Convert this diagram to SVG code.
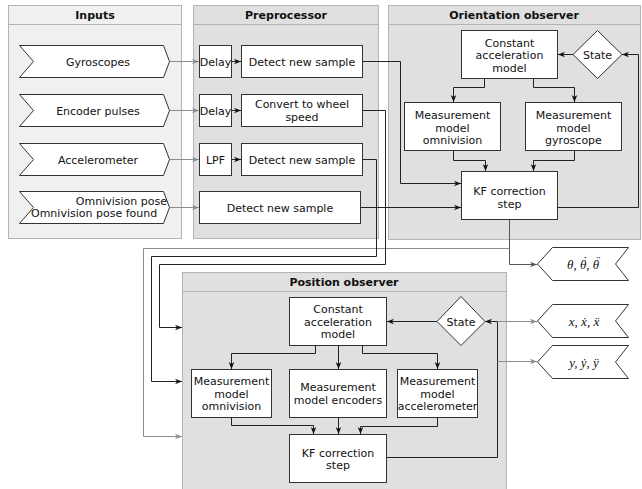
<svg xmlns="http://www.w3.org/2000/svg" width="642" height="489" viewBox="0 0 642 489">
<style>
text{font-family:"DejaVu Sans",Verdana,sans-serif;font-size:11px;fill:#111;text-anchor:middle}
.title{font-weight:bold}
.panel{fill:#e0e0e0;stroke:#b4b4b4;stroke-width:1}
.panel.light{fill:#f0f0f0}
.hdr{stroke:#b4b4b4;stroke-width:1}
.box{fill:#fff;stroke:#333;stroke-width:1}
.io{fill:#fff;stroke:#333;stroke-width:1}
.out{font-family:"Liberation Serif","DejaVu Serif",serif;font-style:italic;font-size:13px}
.c{fill:none;stroke:#222;stroke-width:1;marker-end:url(#ah)}
.g{fill:none;stroke:#8c8c8c;stroke-width:1;marker-end:url(#ag)}
.m{fill:none;stroke:#555;stroke-width:1;marker-end:url(#am)}
</style>
<defs>
<marker id="ah" viewBox="0 0 10 10" refX="10" refY="5" markerWidth="7" markerHeight="7" orient="auto" markerUnits="userSpaceOnUse"><path d="M0,1 L10,5 L0,9 L3,5 Z" fill="#111"/></marker>
<marker id="ag" viewBox="0 0 10 10" refX="10" refY="5" markerWidth="7" markerHeight="7" orient="auto" markerUnits="userSpaceOnUse"><path d="M0,1 L10,5 L0,9 L3,5 Z" fill="#8c8c8c"/></marker>
<marker id="am" viewBox="0 0 10 10" refX="10" refY="5" markerWidth="7" markerHeight="7" orient="auto" markerUnits="userSpaceOnUse"><path d="M0,1 L10,5 L0,9 L3,5 Z" fill="#555"/></marker>
</defs>
<rect width="642" height="489" fill="#fff"/>

<g id="panel-inputs">
<rect class="panel light" x="8.5" y="5.5" width="173" height="233"/>
<line class="hdr" x1="8.5" y1="24.5" x2="181.5" y2="24.5"/>
<text class="title" x="95" y="19">Inputs</text>
</g>
<g id="panel-preprocessor">
<rect class="panel" x="193.5" y="5.5" width="185" height="233"/>
<line class="hdr" x1="193.5" y1="24.5" x2="378.5" y2="24.5"/>
<text class="title" x="286" y="19">Preprocessor</text>
</g>
<g id="panel-orientation">
<rect class="panel" x="388.5" y="5.5" width="252" height="234"/>
<line class="hdr" x1="388.5" y1="24.5" x2="640.5" y2="24.5"/>
<text class="title" x="514" y="19">Orientation observer</text>
</g>
<g id="panel-position">
<rect class="panel" x="182.5" y="272.5" width="324" height="220"/>
<line class="hdr" x1="182.5" y1="291.5" x2="506.5" y2="291.5"/>
<text class="title" x="344" y="286">Position observer</text>
</g>

<g id="connectors">
<path class="g" d="M169,61.5 H199"/>
<path class="g" d="M169,110.5 H199"/>
<path class="g" d="M169,159.5 H199"/>
<path class="g" d="M169,207.5 H199"/>
<path class="c" d="M231,61.5 H241"/>
<path class="c" d="M231,110.5 H241"/>
<path class="c" d="M231,159.5 H241"/>
<path class="c" d="M363,61.5 H400.5 V183.5 H461"/>
<path class="c" d="M361,207.5 H461"/>
<path class="c" d="M484.5,78 V87.5 H453.5 V102"/>
<path class="c" d="M533.5,78 V87.5 H574.5 V102"/>
<path class="c" d="M453.5,151 V160.5 H485.5 V171"/>
<path class="c" d="M574.5,151 V160.5 H533.5 V171"/>
<path class="c" d="M558,207.5 H638.5 V54.5 H622"/>
<path class="c" d="M573,54.5 H558"/>
<path class="m" d="M509.5,219 V264.5 H537"/>
<path class="g" d="M509.5,248.5 H143.5 V436.5 H182"/>
<path class="c" d="M363,110.5 H385.5 V264.5 H159.5 V327.5 H182"/>
<path class="c" d="M363,159.5 H376.5 V256.5 H151.5 V381.5 H182"/>
<path class="c" d="M437,321.5 H387"/>
<path class="c" d="M387,457.5 H497.5 V321.5 H485"/>
<path class="g" d="M497.5,321.5 H537"/>
<path class="g" d="M497.5,361.5 H537"/>
<path class="c" d="M315.5,345 V353.5 H231.5 V369"/>
<path class="c" d="M338.5,345 V369"/>
<path class="c" d="M362.5,345 V353.5 H437.5 V369"/>
<path class="c" d="M231.5,417 V425.5 H313.5 V434"/>
<path class="c" d="M338.5,417 V434"/>
<path class="c" d="M437.5,417 V426.5 H360.5 V434"/>
</g>

<g id="in-gyro"><path class="io" d="M19.5,45.5 H163.5 L169.5,61.5 L163.5,77.5 H19.5 L33.5,61.5 Z"/><text x="98" y="65.5">Gyroscopes</text></g>
<g id="in-enc"><path class="io" d="M19.5,94.5 H163.5 L169.5,110.5 L163.5,126.5 H19.5 L33.5,110.5 Z"/><text x="98" y="114.5">Encoder pulses</text></g>
<g id="in-acc"><path class="io" d="M19.5,143.5 H163.5 L169.5,159.5 L163.5,175.5 H19.5 L33.5,159.5 Z"/><text x="98" y="163.5">Accelerometer</text></g>
<g id="in-omni"><path class="io" d="M19.5,191.5 H163.5 L169.5,207.5 L163.5,223.5 H19.5 L33.5,207.5 Z"/><text x="167" y="205" style="text-anchor:end">Omnivision pose</text><text x="31" y="217" style="text-anchor:start">Omnivision pose found</text></g>

<g id="pre-delay1"><rect class="box" x="199.5" y="45.5" width="32" height="32"/><text x="215.5" y="65.5">Delay</text></g>
<g id="pre-detect1"><rect class="box" x="241.5" y="45.5" width="121" height="32"/><text x="302" y="65.5">Detect new sample</text></g>
<g id="pre-delay2"><rect class="box" x="199.5" y="94.5" width="32" height="32"/><text x="215.5" y="114.5">Delay</text></g>
<g id="pre-convert"><rect class="box" x="241.5" y="94.5" width="121" height="32"/><text x="302" y="108">Convert to wheel</text><text x="302" y="121">speed</text></g>
<g id="pre-lpf"><rect class="box" x="199.5" y="143.5" width="32" height="32"/><text x="215.5" y="163.5">LPF</text></g>
<g id="pre-detect3"><rect class="box" x="241.5" y="143.5" width="121" height="32"/><text x="302" y="163.5">Detect new sample</text></g>
<g id="pre-detect4"><rect class="box" x="199.5" y="191.5" width="161" height="32"/><text x="280" y="211.5">Detect new sample</text></g>

<g id="or-model"><rect class="box" x="461.5" y="30.5" width="96" height="48"/><text x="509.5" y="46.5">Constant</text><text x="509.5" y="59">acceleration</text><text x="509.5" y="71.5">model</text></g>
<g id="or-state"><path class="box" d="M597.5,30.5 L622,54.5 L597.5,78.5 L573,54.5 Z"/><text x="597.5" y="58.5">State</text></g>
<g id="or-mmomni"><rect class="box" x="404.5" y="102.5" width="96" height="48"/><text x="452.5" y="119">Measurement</text><text x="452.5" y="131.5">model</text><text x="452.5" y="144">omnivision</text></g>
<g id="or-mmgyro"><rect class="box" x="525.5" y="102.5" width="96" height="48"/><text x="573.5" y="119">Measurement</text><text x="573.5" y="131.5">model</text><text x="573.5" y="144">gyroscope</text></g>
<g id="or-kf"><rect class="box" x="461.5" y="171.5" width="96" height="48"/><text x="509.5" y="195">KF correction</text><text x="509.5" y="207.5">step</text></g>

<g id="out-theta"><path class="io" d="M552.5,247.5 H628.5 L615.5,264 L628.5,280.5 H552.5 L537.5,264 Z"/><text class="out" style="text-anchor:start"><tspan x="567" y="268.5">θ, θ, θ</tspan><tspan x="582.3" y="265">˙</tspan><tspan x="595.3" y="265">¨</tspan></text></g>
<g id="out-x"><path class="io" d="M552.5,304.5 H628.5 L615.5,321 L628.5,337.5 H552.5 L537.5,321 Z"/><text class="out" x="584" y="325.5">x, ẋ, ẍ</text></g>
<g id="out-y"><path class="io" d="M552.5,345.5 H628.5 L615.5,362 L628.5,378.5 H552.5 L537.5,362 Z"/><text class="out" x="584" y="366.5">y, ẏ, ÿ</text></g>

<g id="pos-model"><rect class="box" x="289.5" y="297.5" width="97" height="48"/><text x="338" y="313">Constant</text><text x="338" y="325.5">acceleration</text><text x="338" y="338">model</text></g>
<g id="pos-state"><path class="box" d="M461,296.5 L485,321.5 L461,345.5 L437,321.5 Z"/><text x="461" y="325.5">State</text></g>
<g id="pos-mmomni"><rect class="box" x="191.5" y="369.5" width="80" height="48"/><text x="231.5" y="385">Measurement</text><text x="231.5" y="397.5">model</text><text x="231.5" y="410">omnivision</text></g>
<g id="pos-mmenc"><rect class="box" x="289.5" y="369.5" width="97" height="48"/><text x="338" y="391">Measurement</text><text x="338" y="403.5">model encoders</text></g>
<g id="pos-mmacc"><rect class="box" x="397.5" y="369.5" width="80" height="48"/><text x="437.5" y="385">Measurement</text><text x="437.5" y="397.5">model</text><text x="437.5" y="410">accelerometer</text></g>
<g id="pos-kf"><rect class="box" x="289.5" y="434.5" width="97" height="48"/><text x="338" y="456.5">KF correction</text><text x="338" y="469">step</text></g>
</svg>
